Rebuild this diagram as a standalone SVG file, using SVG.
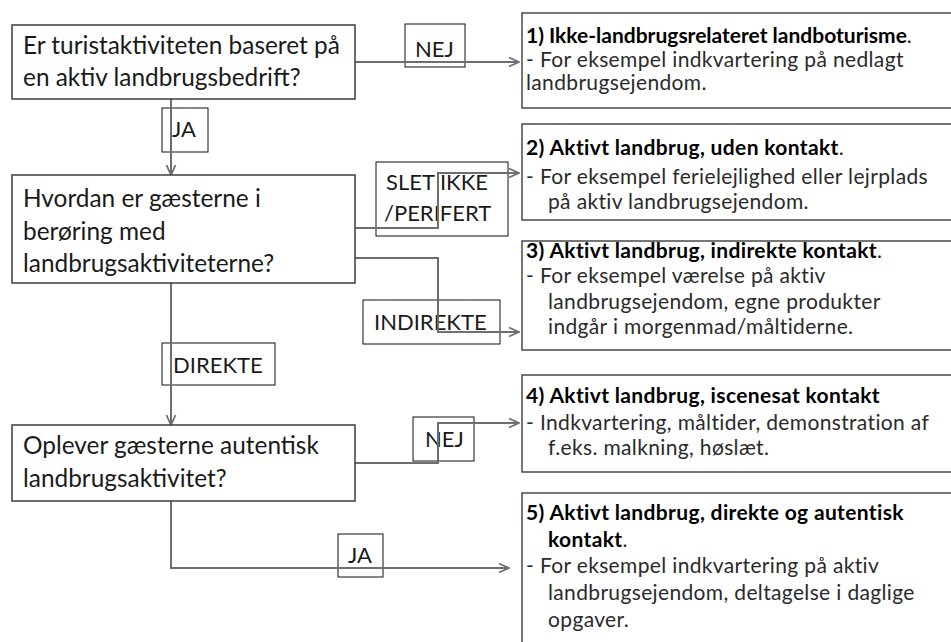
<svg xmlns="http://www.w3.org/2000/svg" width="951" height="642" viewBox="0 0 951 642">
<defs>
<marker id="arr" viewBox="0 0 12 12" refX="11" refY="6" markerWidth="12" markerHeight="12" markerUnits="userSpaceOnUse" orient="auto">
<path d="M1,1.5 L11,6 L1,10.5" fill="none" stroke="#6e6e6e" stroke-width="1.8"/>
</marker>
<style>
.q{fill:#fff;stroke:#3c3c3c;stroke-width:1.5}
.r{fill:#fff;stroke:#4a4a4a;stroke-width:1.5}
.lb{fill:none;stroke:#111;stroke-width:1}
.c{fill:none;stroke:#6e6e6e;stroke-width:2;marker-end:url(#arr)}
text{font-family:Lato,"Liberation Sans",sans-serif;fill:#1a1a1a}
.qt{font-size:24.4px}
.lt{font-size:22px}
.rt{font-size:21px;letter-spacing:0.35px;fill:#2a2a2a}
.b{font-weight:bold;fill:#000}
.tight{letter-spacing:0}
</style>
</defs>
<rect width="951" height="642" fill="#fff"/>

<g id="labels">
<g id="lbl-nej1"><rect class="lb" x="405" y="24" width="60" height="43"/><text class="lt" x="415" y="57">NEJ</text></g>
<g id="lbl-ja1"><rect class="lb" x="162" y="108" width="46" height="44"/><text class="lt" x="172" y="137">JA</text></g>
<g id="lbl-slet"><rect class="lb" x="376" y="162" width="132" height="74"/><text class="lt" x="386" y="190">SLET IKKE</text><text class="lt" x="384" y="221">/PERIFERT</text></g>
<g id="lbl-indirekte"><rect class="lb" x="363" y="300" width="137" height="44"/><text class="lt" x="374" y="330">INDIREKTE</text></g>
<g id="lbl-direkte"><rect class="lb" x="162" y="343" width="113" height="42"/><text class="lt" x="173" y="373">DIREKTE</text></g>
<g id="lbl-nej2"><rect class="lb" x="413" y="417" width="61" height="44"/><text class="lt" x="425" y="447">NEJ</text></g>
<g id="lbl-ja2"><rect class="lb" x="338" y="534" width="45" height="43"/><text class="lt" x="348" y="563">JA</text></g>
</g>

<g id="connectors">
<path class="c" d="M355,62 H519"/>
<path class="c" d="M171,99 V175"/>
<path class="c" d="M355,228 H438 V173 H519"/>
<path class="c" d="M355,258 H438 V332 H519"/>
<path class="c" d="M171,283 V425"/>
<path class="c" d="M355,463 H438 V423 H519"/>
<path class="c" d="M171,501 V568 H509"/>
</g>

<g id="q1"><rect class="q" x="12" y="25" width="343" height="74"/>
<text class="qt" x="23" y="54">Er turistaktiviteten baseret på</text>
<text class="qt" x="23" y="86">en aktiv landbrugsbedrift?</text></g>

<g id="q2"><rect class="q" x="12" y="175" width="343" height="108"/>
<text class="qt" x="23" y="207">Hvordan er gæsterne i</text>
<text class="qt" x="23" y="240">berøring med</text>
<text class="qt" x="23" y="272">landbrugsaktiviteterne?</text></g>

<g id="q3"><rect class="q" x="12" y="425" width="343" height="76"/>
<text class="qt" x="23" y="454">Oplever gæsterne autentisk</text>
<text class="qt" x="23" y="487">landbrugsaktivitet?</text></g>

<g id="r1"><rect class="r" x="522" y="13" width="440" height="95"/>
<text class="rt tight" x="526" y="43"><tspan class="b">1) Ikke-landbrugsrelateret landboturisme</tspan>.</text>
<text class="rt" x="526" y="67">- For eksempel indkvartering på nedlagt</text>
<text class="rt" x="526" y="90">landbrugsejendom.</text></g>

<g id="r2"><rect class="r" x="522" y="124" width="440" height="96"/>
<text class="rt" x="526" y="155"><tspan class="b">2) Aktivt landbrug, uden kontakt</tspan>.</text>
<text class="rt" x="526" y="184">- For eksempel ferielejlighed eller lejrplads</text>
<text class="rt" x="548" y="209">på aktiv landbrugsejendom.</text></g>

<g id="r3"><rect class="r" x="522" y="241" width="440" height="109"/>
<text class="rt" x="526" y="258"><tspan class="b">3) Aktivt landbrug, indirekte kontakt</tspan>.</text>
<text class="rt" x="526" y="283">- For eksempel værelse på aktiv</text>
<text class="rt" x="548" y="309">landbrugsejendom, egne produkter</text>
<text class="rt" x="548" y="334">indgår i morgenmad/måltiderne.</text></g>

<g id="r4"><rect class="r" x="522" y="375" width="440" height="97"/>
<text class="rt b" x="526" y="403">4) Aktivt landbrug, iscenesat kontakt</text>
<text class="rt" x="526" y="430">- Indkvartering, måltider, demonstration af</text>
<text class="rt" x="548" y="455">f.eks. malkning, høslæt.</text></g>

<g id="r5"><rect class="r" x="522" y="493" width="440" height="170"/>
<text class="rt b" x="526" y="520">5) Aktivt landbrug, direkte og autentisk</text>
<text class="rt" x="548" y="547"><tspan class="b">kontakt</tspan>.</text>
<text class="rt" x="526" y="573">- For eksempel indkvartering på aktiv</text>
<text class="rt" x="548" y="600">landbrugsejendom, deltagelse i daglige</text>
<text class="rt" x="548" y="627">opgaver.</text></g>
</svg>
